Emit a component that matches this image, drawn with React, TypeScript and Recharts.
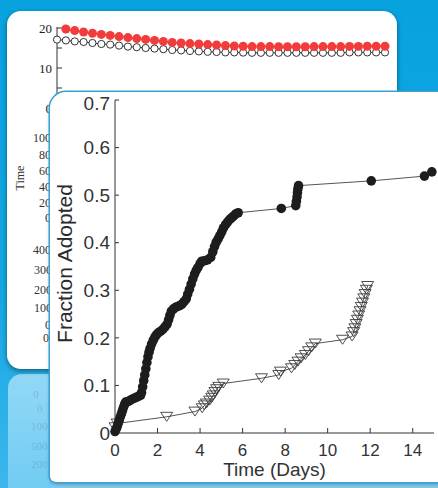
import React from "react";
import {
	Line,
	LineChart,
	Scatter,
	ScatterChart,
	XAxis,
	YAxis,
} from "recharts";

// back panel: iteration index vs time (two series)
const backIndex = Array.from({ length: 38 }, (_, i) => i);
const backRed = [
	null, 19.75, 19.35, 19.0, 18.7, 18.4, 18.15, 17.85, 17.6, 17.35, 17.15, 16.9, 16.65, 16.4,
	16.25, 16.1, 16.0, 15.85, 15.75, 15.6, 15.5, 15.45, 15.35, 15.35, 15.35, 15.3, 15.3, 15.3,
	15.3, 15.35, 15.35, 15.35, 15.35, 15.4, 15.4, 15.45, 15.45, 15.45,
];
const backOpen = [
	17.1, 16.9, 16.65, 16.5, 16.25, 16.0, 15.85, 15.6, 15.35, 15.2, 15.0, 14.85, 14.7, 14.5,
	14.4, 14.25, 14.15, 14.05, 14.0, 13.9, 13.9, 13.85, 13.8, 13.8, 13.8, 13.8, 13.8, 13.8,
	13.8, 13.8, 13.8, 13.8, 13.8, 13.9, 13.9, 13.9, 13.9, 13.9,
];
const backLogTicks = [
	2, 3, 4, 5, 6, 7, 8, 9, 10, 20, 30, 40, 50, 60, 70, 80, 90, 100, 200, 300, 400, 500, 600,
	700, 800, 900,
];
// labels of the hidden sub-plots that peek out on the left
const peekLabels = [
	{ t: "100", x: 33, y: 138 },
	{ t: "80", x: 39, y: 155 },
	{ t: "60", x: 39, y: 171 },
	{ t: "40", x: 39, y: 187 },
	{ t: "20", x: 39, y: 203 },
	{ t: "0", x: 45, y: 218 },
	{ t: "400", x: 33, y: 250 },
	{ t: "300", x: 34, y: 270 },
	{ t: "200", x: 34, y: 290 },
	{ t: "100", x: 34, y: 308 },
	{ t: "0", x: 45, y: 325 },
	{ t: "0", x: 43, y: 338 },
];
// faint mirrored labels in the reflection below the back panel
const reflectLabels = [
	{ t: "0", x: 25, y: 20 },
	{ t: "0", x: 29, y: 34 },
	{ t: "100", x: 23, y: 52 },
	{ t: "500", x: 23, y: 72 },
	{ t: "200", x: 23, y: 90 },
];

// front panel: fraction adopted vs time (days)
const filledDays = [
	0.0, 0.05, 0.1, 0.15, 0.2, 0.25, 0.3, 0.35, 0.4, 0.45, 0.5, 0.6, 0.7, 0.8, 0.9, 1.0, 1.1,
	1.2, 1.25, 1.3, 1.35, 1.4, 1.45, 1.5, 1.55, 1.6, 1.65, 1.72, 1.8, 1.88, 1.96, 2.05, 2.15,
	2.25, 2.35, 2.45, 2.52, 2.58, 2.65, 2.75, 2.85, 2.95, 3.05, 3.15, 3.25, 3.35, 3.42, 3.5,
	3.58, 3.66, 3.74, 3.82, 3.9, 4.0, 4.08, 4.2, 4.35, 4.5, 4.6, 4.68, 4.76, 4.85, 4.93, 5.02,
	5.1, 5.2, 5.3, 5.4, 5.5, 5.6, 5.7, 5.79, 7.82, 8.5, 8.53, 8.56, 8.58, 8.6, 8.63, 12.05,
	14.55, 14.9,
];
const filledFrac = [
	0.003, 0.008, 0.013, 0.02, 0.027, 0.034, 0.04, 0.047, 0.054, 0.06, 0.065, 0.066, 0.068,
	0.071, 0.073, 0.075, 0.077, 0.079, 0.085, 0.097, 0.11, 0.122, 0.135, 0.148, 0.16, 0.17,
	0.178, 0.187, 0.195, 0.202, 0.207, 0.211, 0.214, 0.218, 0.223, 0.229, 0.238, 0.247, 0.256,
	0.261, 0.264, 0.266, 0.268, 0.271, 0.276, 0.282, 0.292, 0.302, 0.313, 0.324, 0.334, 0.342,
	0.348, 0.356, 0.361, 0.362, 0.364, 0.369, 0.381, 0.392, 0.401, 0.408, 0.415, 0.423, 0.431,
	0.438, 0.444, 0.449, 0.453, 0.457, 0.461, 0.463, 0.472, 0.478, 0.487, 0.496, 0.505, 0.513,
	0.52, 0.53, 0.54, 0.549,
];
const triDays = [
	0.0, 0.1, 2.43, 3.76, 4.1, 4.2, 4.3, 4.45, 4.55, 4.62, 4.7, 4.78, 4.88, 5.09, 6.89, 7.7,
	7.78, 8.3, 8.45, 8.6, 8.75, 8.95, 9.1, 9.25, 9.42, 10.7, 11.15, 11.22, 11.28, 11.34, 11.4,
	11.46, 11.52, 11.58, 11.64, 11.7, 11.76, 11.82, 11.88,
];
const triFrac = [
	0.012, 0.02, 0.034, 0.045, 0.052, 0.058, 0.062, 0.068, 0.074, 0.079, 0.086, 0.092, 0.097,
	0.104, 0.115, 0.122, 0.129, 0.136, 0.143, 0.15, 0.157, 0.164, 0.172, 0.18, 0.188, 0.196,
	0.203, 0.212, 0.22, 0.229, 0.238, 0.247, 0.256, 0.265, 0.274, 0.283, 0.292, 0.301, 0.309,
];
const dayTicks = [0, 2, 4, 6, 8, 10, 12, 14];
const fracTicks = [0, 0.1, 0.2, 0.3, 0.4, 0.5, 0.6, 0.7];

const backData = backIndex.map((i) => ({ i, red: backRed[i], open: backOpen[i] }));
const filledData = filledDays.map((x, k) => ({ x, y: filledFrac[k] }));
const triData = triDays.map((x, k) => ({ x, y: triFrac[k] }));

const SANS = "'Liberation Sans', Arial, sans-serif";
const SERIF = "'Liberation Serif', 'Times New Roman', serif";

const Dot = (p: any) => <circle cx={p.cx} cy={p.cy} r={4.8} fill="#1d1d1d" />;
const Tri = (p: any) => (
	<path
		d={`M${p.cx - 6},${p.cy - 4.5}L${p.cx + 6},${p.cy - 4.5}L${p.cx},${p.cy + 4.5}Z`}
		fill="none"
		stroke="#3a3a3a"
		strokeWidth={0.9}
	/>
);

function BackPanel() {
	return (
		<div
			style={{
				position: "absolute",
				left: 7,
				top: 11,
				width: 390,
				height: 358,
				background: "#fff",
				borderRadius: 14,
				boxShadow: "0 2px 5px rgba(0,0,0,0.45)",
				overflow: "hidden",
			}}
		>
			<LineChart
				width={390}
				height={112}
				data={backData}
				margin={{ top: 16, right: 12, left: 0, bottom: 15 }}
			>
				<XAxis dataKey="i" type="number" domain={[0, 37]} hide />
				<XAxis
					xAxisId="log"
					orientation="top"
					type="number"
					scale="log"
					domain={[1, 1000]}
					ticks={backLogTicks}
					height={0}
					tickSize={-4}
					tickFormatter={() => ""}
					stroke="#333"
				/>
				<YAxis
					domain={[0, 20.25]}
					ticks={[0, 5, 10, 15, 20]}
					width={50}
					tickSize={-5}
					tickMargin={10}
					tickFormatter={(v) => (v % 10 === 0 ? String(v) : "")}
					stroke="#333"
					tick={{ fontFamily: SERIF, fontSize: 13, fill: "#222" }}
				/>
				<YAxis
					yAxisId="r"
					orientation="right"
					domain={[0, 20.25]}
					ticks={[5, 10, 15]}
					width={0}
					tickSize={-4}
					tickFormatter={() => ""}
					stroke="#333"
				/>
				<Line
					dataKey="open"
					stroke="#333"
					strokeWidth={1}
					dot={{ r: 3.6, fill: "#fff", stroke: "#333", strokeWidth: 1 }}
					isAnimationActive={false}
				/>
				<Line
					dataKey="red"
					stroke="#f04444"
					strokeWidth={1.5}
					dot={{ r: 4.5, fill: "#f23b3b", stroke: "none" }}
					isAnimationActive={false}
				/>
			</LineChart>
			<svg
				width={60}
				height={358}
				style={{ position: "absolute", left: 0, top: 0 }}
				fontFamily={SERIF}
			>
				{peekLabels.map((l, k) => (
					<text
						key={k}
						x={l.x - 7}
						y={l.y - 11}
						fontSize={12}
						fill="#333"
						dominantBaseline="central"
					>
						{l.t}
					</text>
				))}
				<text
					x={13}
					y={167}
					fontSize={12}
					fill="#333"
					textAnchor="middle"
					dominantBaseline="central"
					transform="rotate(-90 13 167)"
				>
					Time
				</text>
			</svg>
		</div>
	);
}

function FrontPanel() {
	return (
		<div
			style={{
				position: "absolute",
				left: 50,
				top: 92,
				width: 395,
				height: 390,
				background: "#fff",
				borderRadius: "16px 0 0 6px",
				boxShadow: "0 0 0 1.5px #3c9fd4, 0 2px 4px rgba(0,0,0,0.3)",
			}}
		>
			<ScatterChart width={395} height={390} margin={{ top: 8, right: 11, left: 0, bottom: 0 }}>
				<XAxis
					dataKey="x"
					type="number"
					domain={[0, 15]}
					ticks={dayTicks}
					height={49}
					tickSize={-5}
					tickMargin={16}
					stroke="#333"
					tick={{ fontFamily: SANS, fontSize: 17, fill: "#333" }}
					label={{
						content: ({ viewBox }: any) => (
							<text
								x={viewBox.x + viewBox.width / 2}
								y={viewBox.y + 43}
								textAnchor="middle"
								fontFamily={SANS}
								fontSize={19}
								fill="#333"
							>
								Time (Days)
							</text>
						),
					}}
				/>
				<XAxis
					xAxisId="t"
					orientation="top"
					type="number"
					domain={[0, 15]}
					ticks={dayTicks}
					height={0}
					tickSize={-4}
					tickFormatter={() => ""}
					stroke="#333"
				/>
				<YAxis
					dataKey="y"
					type="number"
					domain={[0, 0.7]}
					ticks={fracTicks}
					width={65}
					tickSize={-4}
					tickMargin={9}
					tickFormatter={(v) => (v === 0 ? "0" : v.toFixed(1))}
					stroke="#333"
					tick={{ fontFamily: SANS, fontSize: 19, fill: "#333" }}
					label={{
						content: ({ viewBox }: any) => {
							const cx = viewBox.x + 14;
							const cy = viewBox.y + viewBox.height / 2 - 3;
							return (
								<text
									x={cx}
									y={cy}
									textAnchor="middle"
									dominantBaseline="central"
									transform={`rotate(-90 ${cx} ${cy})`}
									fontFamily={SANS}
									fontSize={21}
									fill="#2a2a2a"
								>
									Fraction Adopted
								</text>
							);
						},
					}}
				/>
				<YAxis
					yAxisId="r"
					orientation="right"
					type="number"
					domain={[0, 0.7]}
					ticks={fracTicks}
					width={0}
					tickSize={-4}
					tickFormatter={() => ""}
					stroke="#333"
				/>
				<Scatter
					data={triData}
					shape={Tri}
					line={{ stroke: "#555", strokeWidth: 1 }}
					isAnimationActive={false}
				/>
				<Scatter
					data={filledData}
					shape={Dot}
					line={{ stroke: "#555", strokeWidth: 1 }}
					isAnimationActive={false}
				/>
			</ScatterChart>
		</div>
	);
}

export default function App() {
	return (
		<div
			style={{
				position: "fixed",
				left: 0,
				top: 0,
				width: 438,
				height: 488,
				overflow: "hidden",
				background: "linear-gradient(180deg, #08a2df 0%, #14a8e3 60%, #3cb6ec 100%)",
			}}
		>
			{/* reflection of the back panel */}
			<div
				style={{
					position: "absolute",
					left: 8,
					top: 374,
					width: 60,
					height: 130,
					borderRadius: "14px 14px 0 0",
					background: "linear-gradient(180deg, #92d8f7 0%, #6ccaf2 100%)",
				}}
			>
				<svg width={60} height={114} fontFamily={SERIF}>
					{reflectLabels.map((l, k) => (
						<text
							key={k}
							x={l.x}
							y={l.y}
							fontSize={11}
							fill="rgba(70,130,170,0.35)"
							dominantBaseline="central"
						>
							{l.t}
						</text>
					))}
				</svg>
			</div>
			{/* reflection of the front panel */}
			<div
				style={{
					position: "absolute",
					left: 52,
					top: 482,
					width: 400,
					height: 20,
					background: "#7fcdf2",
				}}
			/>
			<BackPanel />
			<FrontPanel />
		</div>
	);
}
